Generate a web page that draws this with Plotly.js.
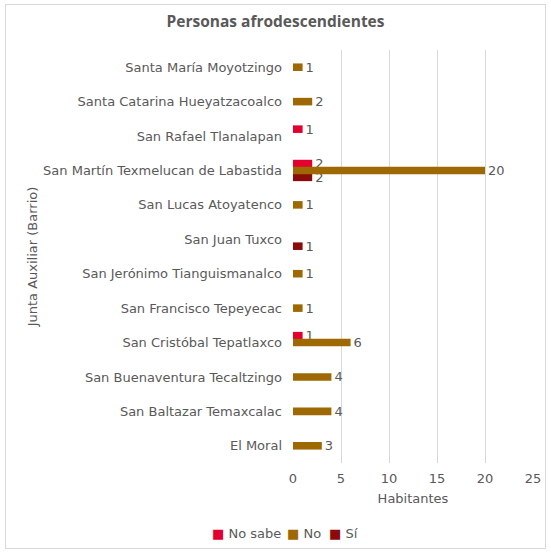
<!DOCTYPE html>
<html>
<head>
<meta charset="utf-8">
<script src="https://cdn.plot.ly/plotly-3.0.1.min.js"></script>
<style>
  body { margin: 0; background: #fff; }
  #wrap { position: relative; width: 551px; height: 553px; }
  #frame { position: absolute; left: 5px; top: 4px; right: 5px; bottom: 4px; border: 1px solid #d9d9d9; pointer-events: none; }
  #chart { width: 551px; height: 553px; }
</style>
</head>
<body>
<div id="wrap">
  <div id="chart"></div>
  <div id="frame"></div>
</div>
<script>
// Juntas auxiliares, from bottom to top of the chart
const categories = [
    'El Moral',
    'San Baltazar Temaxcalac',
    'San Buenaventura Tecaltzingo',
    'San Cristóbal Tepatlaxco',
    'San Francisco Tepeyecac',
    'San Jerónimo Tianguismanalco',
    'San Juan Tuxco',
    'San Lucas Atoyatenco',
    'San Martín Texmelucan de Labastida',
    'San Rafael Tlanalapan',
    'Santa Catarina Hueyatzacoalco',
    'Santa María Moyotzingo'
];

const noSabe = [null, null, null, 1, null, null, null, null, 2, 1, null, null];
const no     = [3, 4, 4, 6, 1, 1, null, 1, 20, null, 2, 1];
const si     = [null, null, null, null, null, null, 1, null, 2, null, null, null];

const seriesNames = ['No sabe', 'No', 'Sí'];
const seriesColors = ['#E3002E', '#9E6903', '#8B0A0A'];
// left edge (px) of each legend entry in the original
const legendLeft = [212, 287, 329];

const textColor = '#595959';
const gridColor = '#d9d9d9';
const FONT = '"DejaVu Sans", sans-serif';
const BAR_W = 0.22;
const W = 551, H = 553;

function barTrace(name, values, color, center) {
    return {
        type: 'bar',
        orientation: 'h',
        name: name,
        y: categories,
        x: values,
        width: BAR_W,
        offset: center - BAR_W / 2,
        marker: { color: color },
        text: values.map(v => v === null ? '' : String(v)),
        textposition: 'outside',
        constraintext: 'none',
        outsidetextfont: { color: textColor, size: 13, family: FONT },
        cliponaxis: false,
        showlegend: false,
        hoverinfo: 'x+name'
    };
}

// "No" drawn last so it sits over the other two, like the original
const traces = [
    barTrace('No sabe', noSabe, seriesColors[0], 0.2),
    barTrace('Sí', si, seriesColors[2], -0.2),
    barTrace('No', no, seriesColors[1], 0)
];

const layout = {
    width: W,
    height: H,
    barmode: 'overlay',
    paper_bgcolor: '#fff',
    plot_bgcolor: '#fff',
    font: { family: FONT, color: textColor, size: 13 },
    title: {
        text: '<b>Personas afrodescendientes</b>',
        font: { size: 15.5, color: textColor, family: '"Open Sans", sans-serif' },
        x: 0.5,
        xref: 'container',
        xanchor: 'center',
        y: 1 - 22 / H,
        yref: 'container',
        yanchor: 'middle'
    },
    xaxis: {
        range: [0, 25],
        dtick: 5,
        showgrid: true,
        gridcolor: gridColor,
        zeroline: false,
        showline: false,
        ticklabelstandoff: 6,
        tickfont: { size: 13, color: textColor },
        title: { text: 'Habitantes', font: { size: 13, color: textColor }, standoff: 8 }
    },
    yaxis: {
        type: 'category',
        range: [-0.5, categories.length - 0.5],
        showgrid: false,
        zeroline: false,
        showline: false,
        ticklabelstandoff: 10,
        tickfont: { size: 13, color: textColor },
        title: { text: 'Junta Auxiliar (Barrio)', font: { size: 13, color: textColor }, standoff: 2 }
    },
    showlegend: true,
    margin: { l: 293, r: 18, t: 50, b: 90 }
};

// one legend per series, keys drawn as small coloured squares in the text
seriesNames.forEach((name, i) => {
    const key = i === 0 ? 'legend' : 'legend' + (i + 1);
    traces.push({
        type: 'scatter',
        mode: 'markers',
        name: '<span style="color:' + seriesColors[i] + '">■</span> ' + name,
        x: [null],
        y: [null],
        marker: { size: 0, opacity: 0, color: 'rgba(0,0,0,0)', line: { width: 0 } },
        legend: key,
        showlegend: true,
        hoverinfo: 'skip'
    });
    layout[key] = {
        orientation: 'h',
        xref: 'container',
        yref: 'container',
        x: (legendLeft[i] - 40) / W,
        xanchor: 'left',
        y: 1 - 533 / H,
        yanchor: 'middle',
        bgcolor: 'rgba(0,0,0,0)',
        font: { size: 13, color: textColor },
        itemwidth: 30
    };
});

Plotly.newPlot('chart', traces, layout, { displayModeBar: false, staticPlot: true });
</script>
</body>
</html>
